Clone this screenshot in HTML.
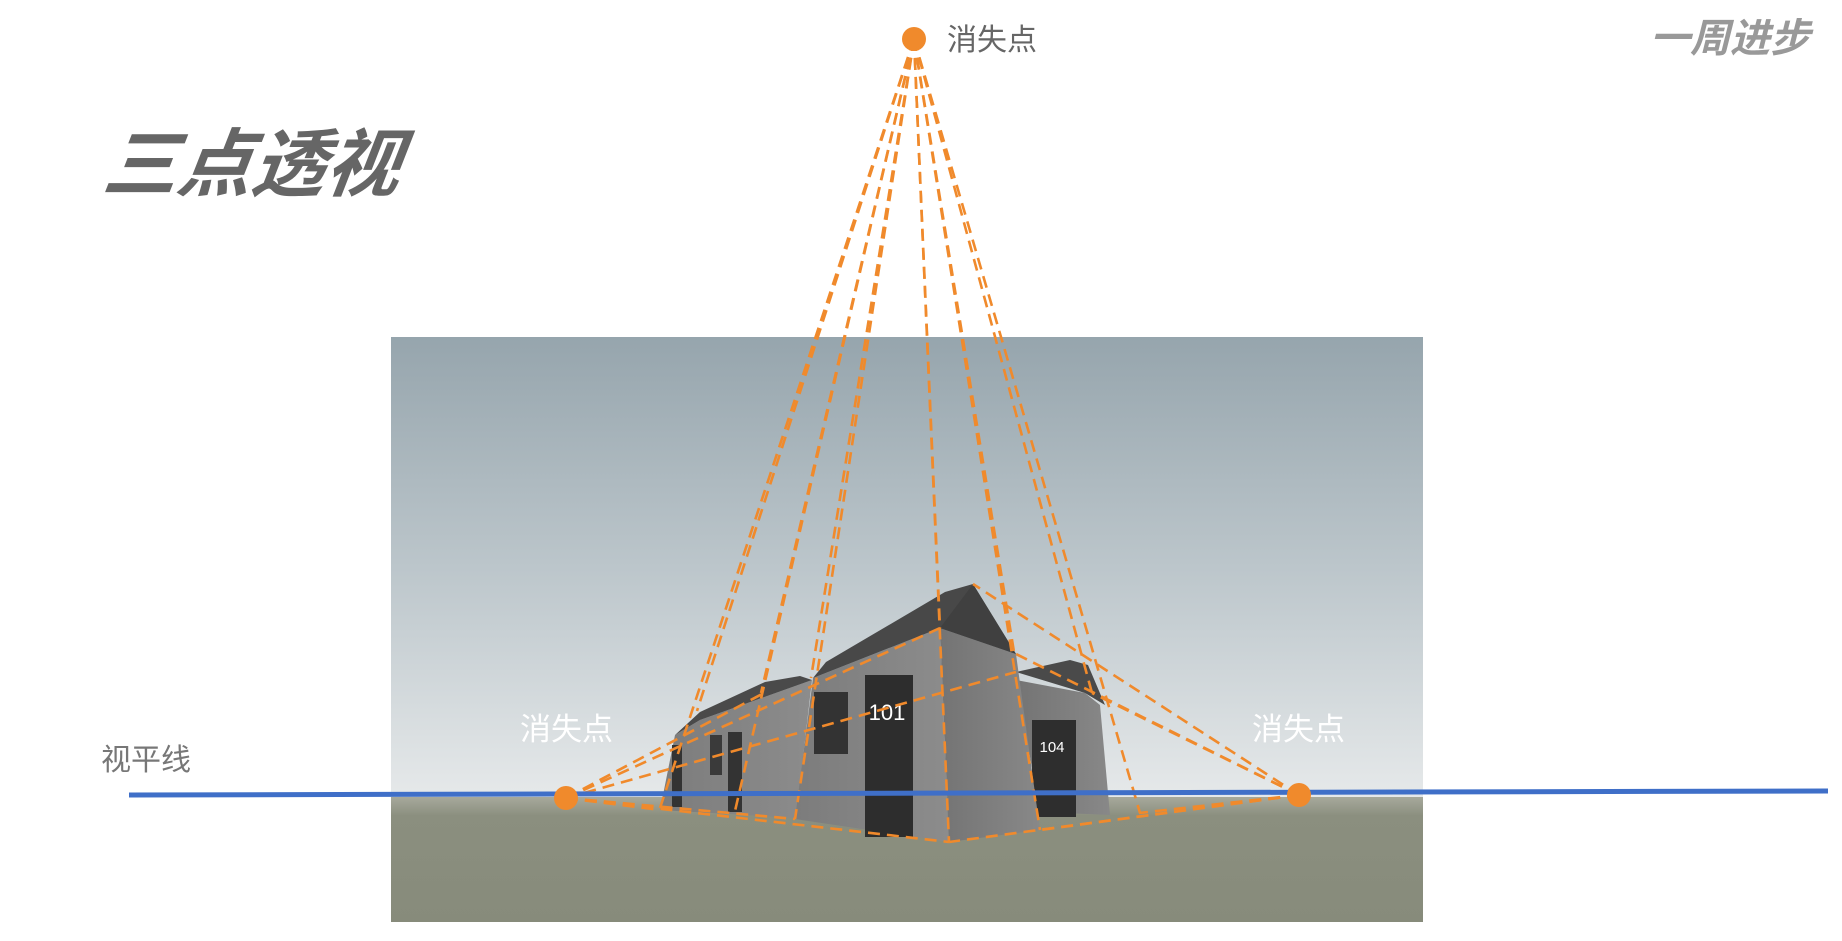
<!DOCTYPE html>
<html><head><meta charset="utf-8">
<style>
html,body{margin:0;padding:0;background:#fff;}
#wrap{position:relative;width:1842px;height:941px;overflow:hidden;background:#fff;font-family:"Liberation Sans","Noto Sans CJK SC",sans-serif;}
svg{position:absolute;left:0;top:0;}
</style></head>
<body>
<div id="wrap">
<svg width="1842" height="941" viewBox="0 0 1842 941">
<defs>
<linearGradient id="sky" x1="0" y1="0" x2="0" y2="1">
<stop offset="0" stop-color="#96a5ad"/>
<stop offset="0.5" stop-color="#bcc6cb"/>
<stop offset="1" stop-color="#e6e9ea"/>
</linearGradient>
<linearGradient id="ground" x1="0" y1="0" x2="0" y2="1">
<stop offset="0" stop-color="#a7a99c"/>
<stop offset="0.15" stop-color="#8b8f7f"/>
<stop offset="1" stop-color="#878b7b"/>
</linearGradient>
<linearGradient id="wallL" x1="0" y1="0" x2="1" y2="0">
<stop offset="0" stop-color="#7c7c7c"/><stop offset="1" stop-color="#8c8c8c"/>
</linearGradient>
<linearGradient id="wallR" x1="0" y1="0" x2="1" y2="0">
<stop offset="0" stop-color="#747474"/><stop offset="1" stop-color="#888"/>
</linearGradient>
</defs>
<g>
<rect x="391" y="337" width="1032" height="462" fill="url(#sky)"/>
<rect x="391" y="797" width="1032" height="125" fill="url(#ground)"/>
<polygon points="660,810 675,735 700,720 812,680 796,818" fill="url(#wallL)"/>
<polygon points="675,735 700,712 765,682 800,676 812,680 700,720" fill="#4a4a4a"/>
<rect x="672" y="745" width="10" height="62" fill="#333"/>
<rect x="728" y="732" width="14" height="80" fill="#333"/>
<rect x="710" y="735" width="12" height="40" fill="#3a3a3a"/>
<polygon points="1016,680 1085,693 1100,705 1110,815 1040,812" fill="url(#wallR)"/>
<polygon points="1016,672 1070,660 1088,665 1105,705 1085,693" fill="#4a4a4a"/>
<rect x="1032" y="720" width="44" height="97" fill="#2e2e2e"/>
<text x="1052" y="752" fill="#fff" font-size="15" text-anchor="middle">104</text>
<polygon points="813,678 940,628 949,842 795,819" fill="url(#wallL)"/>
<polygon points="940,628 1016,654 1040,830 949,842" fill="url(#wallR)"/>
<polygon points="813,678 826,662 945,592 973,584 1016,654 940,628" fill="#484848"/>
<polygon points="940,628 973,584 1016,654" fill="#404040"/>
<rect x="865" y="675" width="48" height="162" fill="#2d2d2d"/>
<text x="887" y="720" fill="#fff" font-size="22" text-anchor="middle">101</text>
<rect x="814" y="692" width="34" height="62" fill="#333"/>
</g>
<g id="vlines" stroke="#f08a2c" stroke-width="2.6" stroke-dasharray="12,7" fill="none"></g>
<line x1="129" y1="795" x2="1828" y2="791" stroke="#3f6fc8" stroke-width="5"/>
<g id="vps"></g>
<text x="103" y="190" font-size="74" font-weight="bold" font-style="italic" fill="#666" transform="skewX(-8) translate(25,0)">三点透视</text>
<text x="947" y="50" font-size="30" fill="#666">消失点</text>
<text x="101" y="770" font-size="30" fill="#777">视平线</text>
<text x="520" y="740" font-size="31" fill="#fff">消失点</text>
<text x="1252" y="740" font-size="31" fill="#fff">消失点</text>
<text x="1650" y="52" font-size="40" font-weight="bold" font-style="italic" fill="#999">一周进步</text>
</svg>
</div>
<script>
const vpNames = ['top', 'left', 'right'];
const vpX = [914, 566, 1299];
const vpY = [39, 798, 795];
const topTargetsX = [660, 697, 735, 761, 795, 811, 940, 949, 1014, 1040, 1092, 1140];
const topTargetsY = [808, 711, 811, 693, 819, 678, 628, 842, 652, 830, 693, 813];
const leftTargetsX = [940, 764, 949, 795, 660, 1016];
const leftTargetsY = [628, 693, 842, 819, 810, 672];
const rightTargetsX = [973, 1016, 1092, 949, 1040, 1139];
const rightTargetsY = [584, 654, 693, 842, 830, 813];
const NS = 'http://www.w3.org/2000/svg';
const g = document.getElementById('vlines');
function addLine(i, tx, ty) {
  const l = document.createElementNS(NS, 'line');
  l.setAttribute('x1', vpX[i]); l.setAttribute('y1', vpY[i]);
  l.setAttribute('x2', tx); l.setAttribute('y2', ty);
  
  
  g.appendChild(l);
}
topTargetsX.forEach((x, k) => addLine(0, x, topTargetsY[k]));
leftTargetsX.forEach((x, k) => addLine(1, x, leftTargetsY[k]));
rightTargetsX.forEach((x, k) => addLine(2, x, rightTargetsY[k]));
const vg = document.getElementById('vps');
vpX.forEach((x, i) => {
  const c = document.createElementNS(NS, 'circle');
  c.setAttribute('cx', x); c.setAttribute('cy', vpY[i]); c.setAttribute('r', 12);
  c.setAttribute('fill', '#f08a2c');
  
  
  vg.appendChild(c);
});
</script>
</body></html>
